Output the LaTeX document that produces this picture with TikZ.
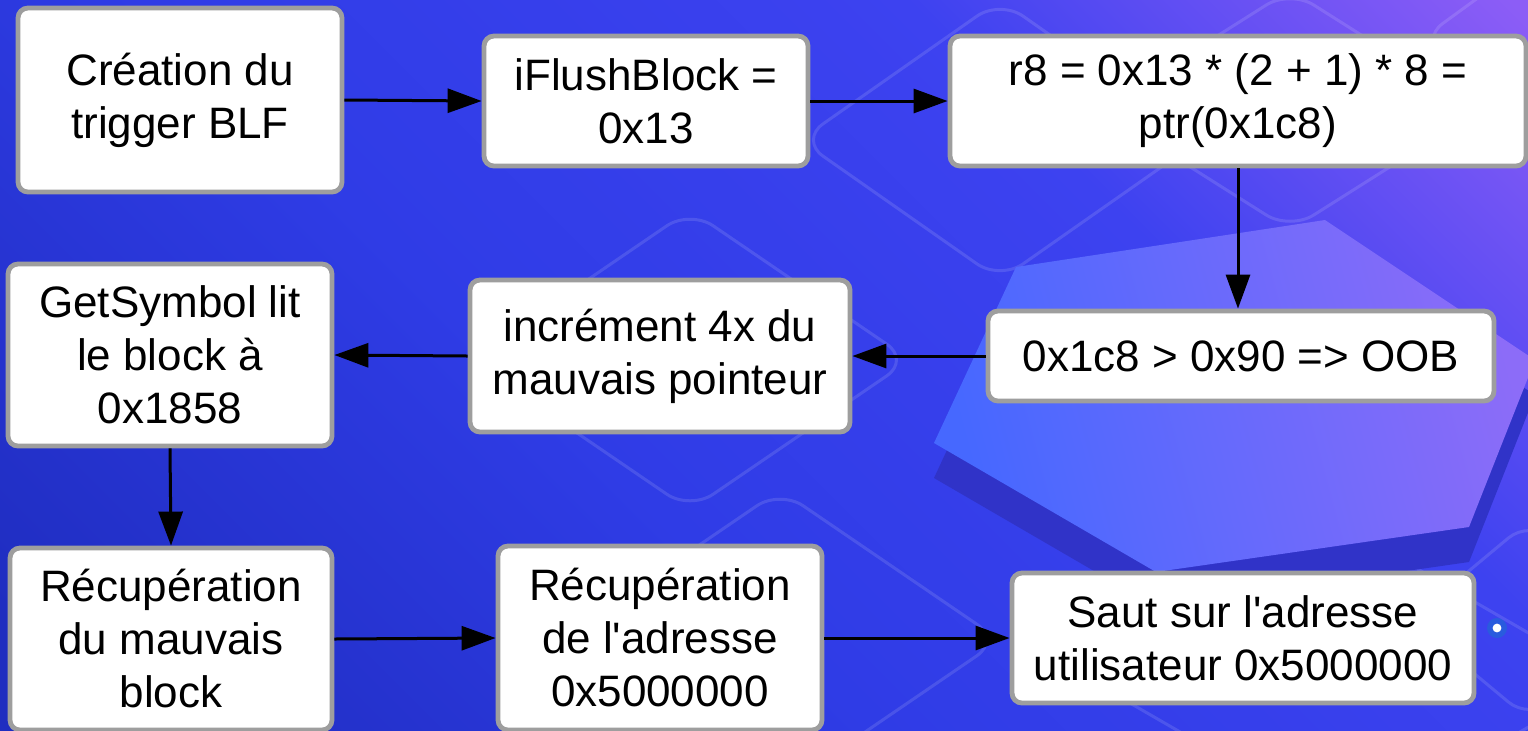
\documentclass[tikz,border=0pt]{standalone}
\usepackage{fontspec}
\setmainfont{Liberation Sans}
\usetikzlibrary{arrows.meta, shapes, positioning, calc}
\definecolor{fondbleu}{HTML}{2F3CE6}
\definecolor{fondbleuclair}{HTML}{3D42F0}
\definecolor{fondsombre}{HTML}{1F2DC0}
\definecolor{fondviolet}{HTML}{8C5DF6}
\definecolor{hexbleu}{HTML}{4668FF}
\definecolor{hexviolet}{HTML}{8C6CF8}
\definecolor{hexombre}{HTML}{3033C8}
\definecolor{bordgris}{HTML}{9E9E9E}
\pgfdeclarehorizontalshading{degradefond}{100bp}{color(0bp)=(fondsombre); color(18bp)=(fondsombre); color(42bp)=(fondbleu); color(66bp)=(fondbleuclair); color(85bp)=(fondviolet); color(100bp)=(fondviolet)}

\begin{document}
\begin{tikzpicture}[x=0.5pt, y=-0.5pt,
    bloc/.style={draw=bordgris, fill=white, line width=2.4pt, rounded corners=5pt, align=center, font=\fontsize{22}{26.5}\selectfont, text=black, inner sep=0pt},
    fleche/.style={-{Triangle[length=17pt, width=12pt]}, line width=1.5pt, black},
    losange/.style={draw=white, draw opacity=0.12, line width=1.5pt, rounded corners=14pt}]
  \useasboundingbox (0,0) rectangle (1528,730);

  % Fond dégradé bleu -> violet
  \shade[shading=degradefond, shading angle=45] (0,0) rectangle (1528,730);

  % Losanges clairs en filigrane
  \foreach \cx/\cy/\dx/\dy in {690/360/220/150, 1000/140/200/140, 1290/110/190/120, 1530/40/110/80, 1350/680/260/150, 780/640/220/150, 1530/620/120/100}
    \draw[losange] (\cx-\dx,\cy) -- (\cx,\cy-\dy) -- (\cx+\dx,\cy) -- (\cx,\cy+\dy) -- cycle;

  % Hexagone avec son ombre
  \fill[hexombre] (1016,302) -- (1325,255) -- (1535,395) -- (1469,562) -- (1156,607) -- (934,478) -- cycle;
  \shade[left color=hexbleu, right color=hexviolet, shading angle=105] (1016,267) -- (1325,220) -- (1535,360) -- (1469,527) -- (1156,572) -- (934,443) -- cycle;

  % Point lumineux
  \fill[cyan!60!blue, opacity=0.45] (1497,628) circle (5pt);
  \fill[white] (1497,628) circle (2.2pt);

  % Étapes
  \node[bloc, minimum width=162pt, minimum height=92pt] (creation) at (180,100) {Création du\\trigger BLF};
  \node[bloc, minimum width=162pt, minimum height=65pt] (iflush) at (646,101) {iFlushBlock =\\0x13};
  \node[bloc, minimum width=288pt, minimum height=65pt] (calcr8) at (1238,101) {r8 = 0x13 * (2 + 1) * 8 =\\ptr(0x1c8)};
  \node[bloc, minimum width=253pt, minimum height=45pt] (oob) at (1241,356) {0x1c8 > 0x90 => OOB};
  \node[bloc, minimum width=190pt, minimum height=76pt] (increment) at (660,356) {incrément 4x du\\mauvais pointeur};
  \node[bloc, minimum width=162pt, minimum height=91pt] (getsymbol) at (170,355) {GetSymbol lit\\le block à\\0x1858};
  \node[bloc, minimum width=161pt, minimum height=91pt] (recupblock) at (171,639) {Récupération\\du mauvais\\block};
  \node[bloc, minimum width=162pt, minimum height=92pt] (recupadr) at (660,638) {Récupération\\de l\textquotesingle adresse\\0x5000000};
  \node[bloc, minimum width=231pt, minimum height=65pt] (saut) at (1243,638) {Saut sur l\textquotesingle adresse\\utilisateur 0x5000000};

  % Enchaînement
  \draw[fleche] (creation.east) -- (iflush.west);
  \draw[fleche] (iflush.east) -- (calcr8.west);
  \draw[fleche] (calcr8.south) -- (calcr8.south |- oob.north);
  \draw[fleche] (oob.west) -- (increment.east);
  \draw[fleche] (increment.west) -- (getsymbol.east);
  \draw[fleche] (getsymbol.south) -- (recupblock.north);
  \draw[fleche] (recupblock.east) -- (recupadr.west);
  \draw[fleche] (recupadr.east) -- (saut.west);
\end{tikzpicture}
\end{document}
